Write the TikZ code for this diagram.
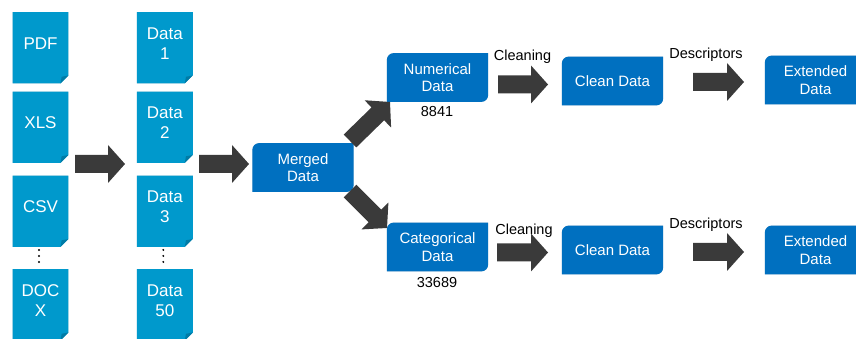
\documentclass[tikz,border=0pt]{standalone}
\usepackage{fontspec}
\setmainfont{Liberation Sans}
\usetikzlibrary{calc,backgrounds}
\definecolor{doccol}{HTML}{0099CC}
\definecolor{docfold}{HTML}{007BA6}
\definecolor{boxcol}{HTML}{0070C0}
\definecolor{arrcol}{HTML}{3A3A3A}
\newcommand\barrow[2]{%
  \coordinate (bh) at ($(#2)!17pt!(#1)$);
  \fill[arrcol] ($(#1)!9pt!90:(#2)$) -- ($(bh)!9pt!90:(#2)$) -- ($(bh)!19pt!90:(#2)$) -- (#2)
     -- ($(bh)!19pt!-90:(#2)$) -- ($(bh)!9pt!-90:(#2)$) -- ($(#1)!9pt!-90:(#2)$) -- cycle;}
\begin{document}
\begin{tikzpicture}[x=1pt,y=1pt,
  doc/.style={minimum width=55.5pt, minimum height=71pt, inner sep=0pt, text=white,
    font=\fontsize{17}{20}\selectfont, align=center},
  bx/.style={minimum width=101pt, minimum height=48.5pt, inner sep=0pt, text=white,
    font=\fontsize{15}{17.5}\selectfont, align=center},
  lbl/.style={font=\fontsize{14.5}{17}\selectfont, inner sep=0pt},
]
\useasboundingbox (0,0) rectangle (856,339);
% documents
\node[doc] (pdf)  at (40.5,295.5) {PDF};
\node[doc] (xls)  at (40.5,216) {XLS};
\node[doc] (csv)  at (40.5,132) {CSV};
\node[doc] (docx) at (40.5,38.5) {DOC\\X};
\node[doc] (d1)   at (164.8,295.5) {Data\\1};
\node[doc] (d2)   at (164.8,216) {Data\\2};
\node[doc] (d3)   at (164.8,132) {Data\\3};
\node[doc] (d50)  at (164.8,38.5) {Data\\50};
% boxes
\node[bx] (merged) at (303,171.5) {Merged\\Data};
\node[bx] (num)    at (437.5,261.5) {Numerical\\Data};
\node[bx] (cat)    at (437.5,92) {Categorical\\Data};
\node[bx] (clean1) at (612.5,258) {Clean Data};
\node[bx] (clean2) at (612.5,89) {Clean Data};
\node[bx] (ext1)   at (815.5,259) {Extended\\Data};
\node[bx] (ext2)   at (815.5,89) {Extended\\Data};
% labels
\node[lbl] (n1) at (437,227) {8841};
\node[lbl] (n2) at (437,56) {33689};
\node[lbl] (cl1) at (522.5,282) {Cleaning};
\node[lbl] (cl2) at (524,108) {Cleaning};
\node[lbl] (de1) at (706,284.5) {Descriptors};
\node[lbl] (de2) at (706,114) {Descriptors};
% dots
\foreach \dy in {-6,0,6} {
  \fill ($(csv.south)!0.5!(docx.north)+(-1.5,\dy-2.2)$) circle (1.1pt);
  \fill ($(d3.south)!0.5!(d50.north)+(-1.5,\dy-2.2)$) circle (1.1pt);
}
% arrows
\coordinate (a1s) at (75,175);   \coordinate (a1e) at (125,175);
\coordinate (a2s) at (199,175);  \coordinate (a2e) at (249,175);
\coordinate (aus) at (350,198);  \coordinate (aue) at (390,237);
\coordinate (ads) at (350,148);  \coordinate (ade) at (387,111);
\coordinate (c1s) at (498,254.5); \coordinate (c1e) at (548,254.5);
\coordinate (c2s) at (497,86.5);  \coordinate (c2e) at (548,86.5);
\coordinate (e1s) at (693,257);   \coordinate (e1e) at (744,257);
\coordinate (e2s) at (693,87);    \coordinate (e2e) at (744,87);
\barrow{a1s}{a1e}
\barrow{a2s}{a2e}
\barrow{aus}{aue}
\barrow{ads}{ade}
\barrow{c1s}{c1e}
\barrow{c2s}{c2e}
\barrow{e1s}{e1e}
\barrow{e2s}{e2e}
\begin{pgfonlayer}{background}
\clip (0,0) rectangle (856,339);
\foreach \n in {pdf,xls,csv,docx,d1,d2,d3,d50} {
  \fill[black,opacity=.13,shift={(1.3pt,-1.3pt)}] ([yshift=-4.3pt]\n.north west) -- ([yshift=-4.3pt]\n.north east)
    -- ([yshift=3.7pt]\n.south east) -- ([shift={(-8pt,-4.3pt)}]\n.south east) -- ([yshift=-4.3pt]\n.south west) -- cycle;
  \fill[doccol] ([yshift=-4.3pt]\n.north west) -- ([yshift=-4.3pt]\n.north east)
    -- ([yshift=3.7pt]\n.south east) -- ([shift={(-8pt,-4.3pt)}]\n.south east) -- ([yshift=-4.3pt]\n.south west) -- cycle;
  \fill[docfold] ([yshift=3.7pt]\n.south east) -- ([shift={(-8pt,-4.3pt)}]\n.south east)
    -- ([shift={(-6.8pt,2.4pt)}]\n.south east) -- cycle;
}
\foreach \n in {merged,num,cat,clean1,clean2,ext1,ext2} {
  \fill[black,opacity=.13,shift={(1.3pt,-1.3pt)}] (\n.south west) -- ([yshift=-7pt]\n.north west)
    arc[start angle=180,end angle=90,radius=7pt] -- (\n.north east) -- ([yshift=7pt]\n.south east)
    arc[start angle=0,end angle=-90,radius=7pt] -- cycle;
  \fill[boxcol] (\n.south west) -- ([yshift=-7pt]\n.north west)
    arc[start angle=180,end angle=90,radius=7pt] -- (\n.north east) -- ([yshift=7pt]\n.south east)
    arc[start angle=0,end angle=-90,radius=7pt] -- cycle;
}
\end{pgfonlayer}
\end{tikzpicture}
\end{document}
